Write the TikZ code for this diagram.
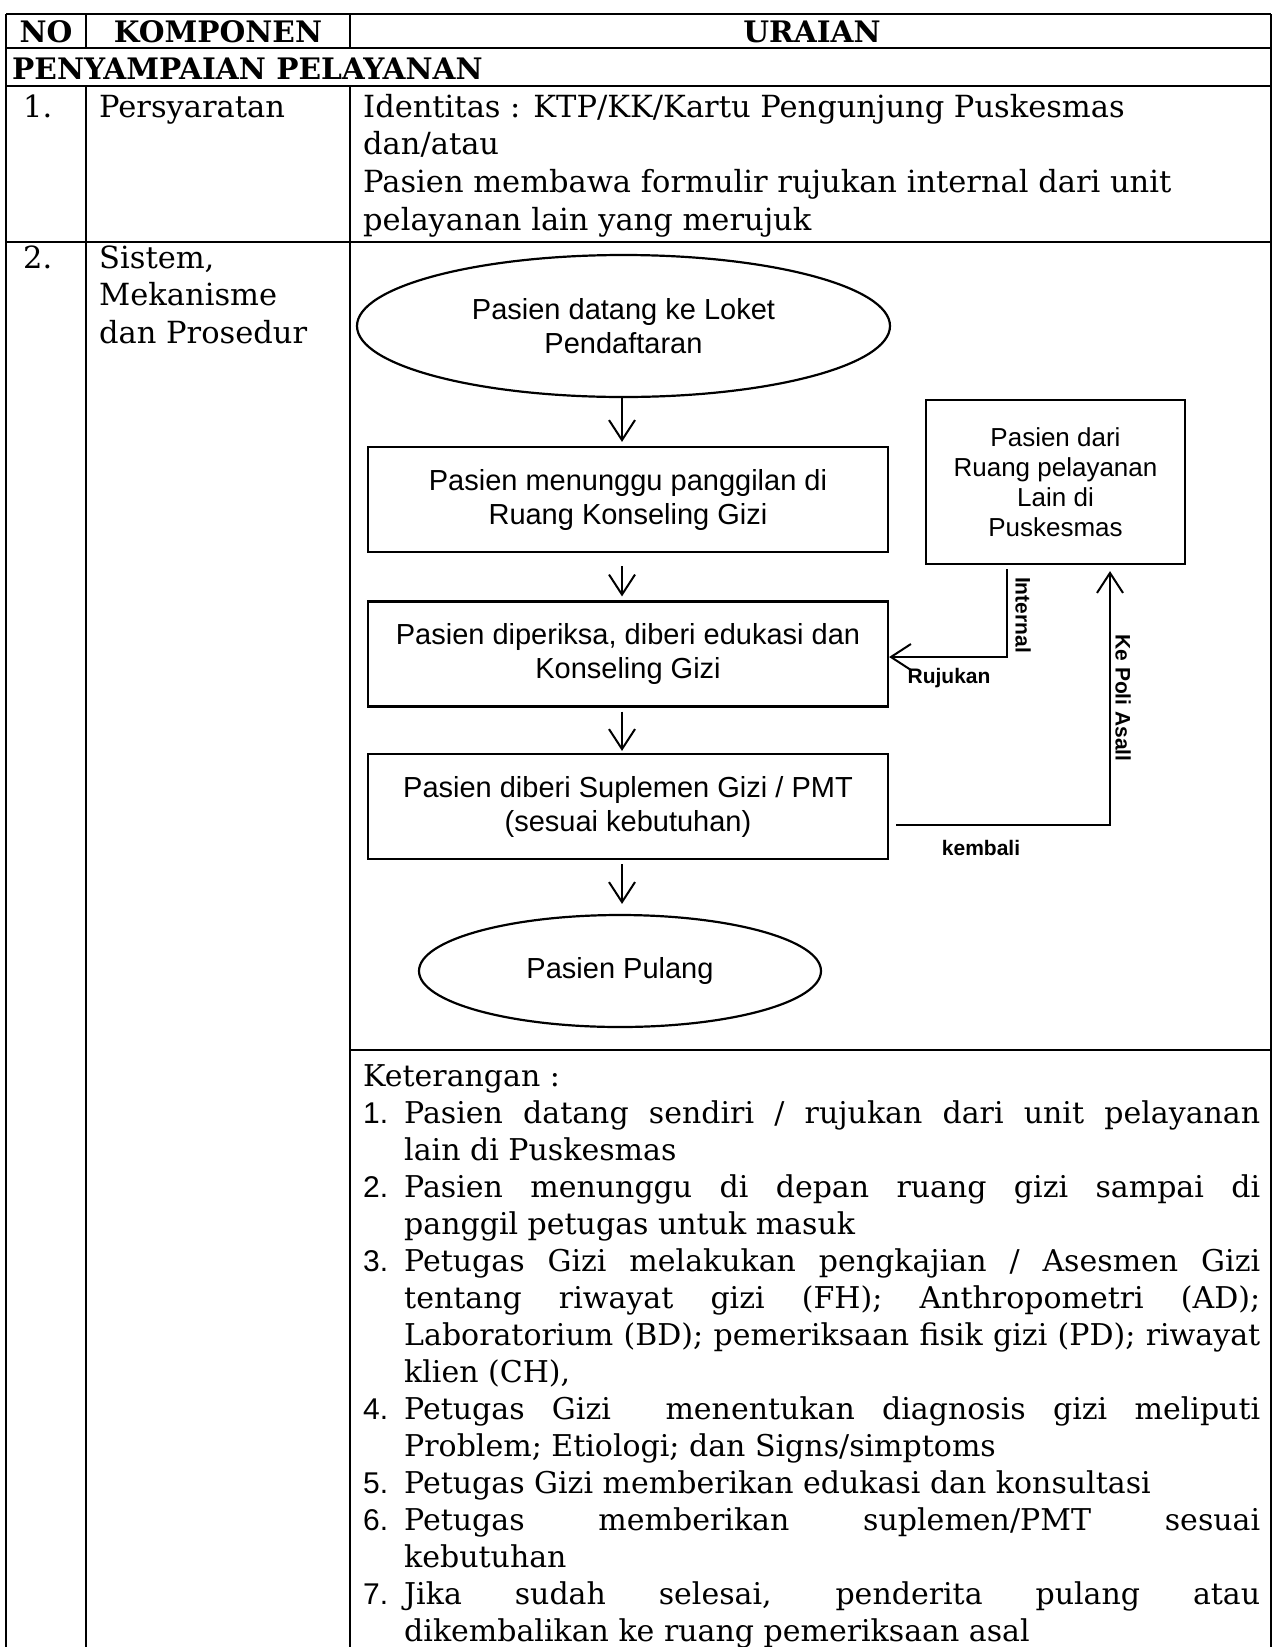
\documentclass[tikz,border=0pt]{standalone}
\usepackage{fontspec}
\setmainfont{DejaVu Serif}
\newfontfamily\flowfont{Liberation Sans}
\usetikzlibrary{arrows.meta,shapes.geometric}

% text styles
\newcommand\tabtext{\fontsize{30.5}{37.7}\selectfont}
\newcommand\kettext{\fontsize{30}{37}\selectfont}
\newcommand\headtext{\bfseries\fontsize{29.6}{37.7}\selectfont}
\newcommand\flowtext{\flowfont\fontsize{29}{34}\selectfont}
\newcommand\sidetext{\flowfont\fontsize{26}{30}\selectfont}
\newcommand\tagtext{\flowfont\bfseries\fontsize{21}{24}\selectfont}
% one line of the explanation list
\newcommand\ketnum[1]{\makebox[41pt][l]{\flowfont #1}}
\newcommand\ketgap{\hspace*{41pt}}
\newcommand\jline[1]{\makebox[856pt][s]{#1}}

\begin{document}
\begin{tikzpicture}[x=1pt,y=-1pt,
  grid/.style={line width=2.4pt},
  cell/.style={anchor=base west, inner sep=0pt, font=\tabtext},
  headcell/.style={anchor=base, inner sep=0pt, font=\headtext},
  flowbox/.style={draw, line width=2.2pt, minimum width=520pt, minimum height=105pt,
                  align=center, font=\flowtext, inner sep=0pt},
  flowoval/.style={draw, ellipse, line width=2.2pt, align=center, font=\flowtext, inner sep=0pt},
  sidebox/.style={draw, line width=2.2pt, minimum width=259pt, minimum height=164pt,
                  align=center, font=\sidetext, inner sep=0pt},
  arr/.style={line width=2pt, -{Straight Barb[length=20pt,width=26pt,line width=2pt]}},
  tag/.style={font=\tagtext, inner sep=0pt},
]
\useasboundingbox (0,0) rectangle (1276,1647);
\fill[white] (0,0) rectangle (1276,1647);

% table rules
\draw[grid] (6,14) -- (1271,14);
\draw[grid] (6,48) -- (1271,48);
\draw[grid] (6,86) -- (1271,86);
\draw[grid] (6,242) -- (1271,242);
\draw[grid] (350,1050) -- (1271,1050);
\draw[grid] (6,14) -- (6,1647);
\draw[grid] (86,14) -- (86,48);
\draw[grid] (86,86) -- (86,1647);
\draw[grid] (350,14) -- (350,48);
\draw[grid] (350,86) -- (350,1647);
\draw[grid] (1271,14) -- (1271,1647);

% header
\node[headcell] (hno) at (46,42) {NO};
\node[headcell] (hkomp) at (218,42) {KOMPONEN};
\node[headcell] (hur) at (812,42) {URAIAN};
\node[anchor=base west, inner sep=0pt, font=\headtext] (hsec) at (12,79) {PENYAMPAIAN PELAYANAN};

% row 1
\node[cell] (n1) at (23,117) {1.};
\node[cell] (k1) at (99,117) {Persyaratan};
\node[cell] (u1) at (363,117) {\parbox[t]{900pt}{Identitas : KTP/KK/Kartu Pengunjung Puskesmas\\
dan/atau\\
Pasien membawa formulir rujukan internal dari unit\\
pelayanan lain yang merujuk}};

% row 2
\node[cell] (n2) at (23,268) {2.};
\node[cell] (k2) at (99,268) {\parbox[t]{250pt}{Sistem,\\Mekanisme\\dan Prosedur}};

% flow chart
\node[flowoval, minimum width=533pt, minimum height=142pt] (e1) at (623.5,326) {Pasien datang ke Loket\\Pendaftaran};
\node[flowbox] (b2) at (628,499.5) {Pasien menunggu panggilan di\\Ruang Konseling Gizi};
\node[flowbox] (b3) at (628,654) {Pasien diperiksa, diberi edukasi dan\\Konseling Gizi};
\node[flowbox] (b4) at (628,806.5) {Pasien diberi Suplemen Gizi / PMT\\(sesuai kebutuhan)};
\node[flowoval, minimum width=402pt, minimum height=112pt] (e2) at (620,971) {Pasien Pulang};
\node[sidebox] (rb) at (1055.5,482) {Pasien dari\\Ruang pelayanan\\Lain di\\Puskesmas};

\coordinate (ax) at (622,0);
\draw[arr, shorten >=4pt] (e1.south -| ax) -- (b2.north -| ax);
\draw[arr, shorten <=13pt, shorten >=4pt] (b2.south -| ax) -- (b3.north -| ax);
\draw[arr, shorten <=4pt, shorten >=2pt] (b3.south -| ax) -- (b4.north -| ax);
\draw[arr, shorten <=4pt, shorten >=10pt] (b4.south -| ax) -- (e2.north -| ax);

\coordinate (ic) at (1007,657);
\draw[arr, shorten <=4pt] (rb.south -| ic) -- (ic) -- (ic -| b3.east);
\coordinate (kc) at (1110,825);
\draw[arr, shorten <=7pt, shorten >=6pt] (kc -| b4.east) -- (kc) -- (kc |- rb.south);

\node[tag, rotate=-90] (lint) at (1023,615) {Internal};
\node[tag] (lruj) at (949,678) {Rujukan};
\node[tag] (lkem) at (981,848) {kembali};
\node[tag, rotate=-90] (lpoli) at (1123,698) {Ke Poli Asall};

% explanation list
\node[cell, font=\kettext] (ket) at (363,1086) {\parbox[t]{900pt}{\baselineskip=37pt
Keterangan :\\
\ketnum{1.}\jline{Pasien datang sendiri / rujukan dari unit pelayanan}\\
\ketgap lain di Puskesmas\\
\ketnum{2.}\jline{Pasien menunggu di depan ruang gizi sampai di}\\
\ketgap panggil petugas untuk masuk\\
\ketnum{3.}\jline{Petugas Gizi melakukan pengkajian / Asesmen Gizi}\\
\ketgap\jline{tentang riwayat gizi (FH); Anthropometri (AD);}\\
\ketgap\jline{Laboratorium (BD); pemeriksaan fisik gizi (PD); riwayat}\\
\ketgap klien (CH),\\
\ketnum{4.}\jline{Petugas Gizi\ \ menentukan diagnosis gizi meliputi}\\
\ketgap Problem; Etiologi; dan Signs/simptoms\\
\ketnum{5.}Petugas Gizi memberikan edukasi dan konsultasi\\
\ketnum{6.}\jline{Petugas memberikan suplemen/PMT sesuai}\\
\ketgap kebutuhan\\
\ketnum{7.}\jline{Jika sudah selesai, penderita pulang atau}\\
\ketgap dikembalikan ke ruang pemeriksaan asal}};
\end{tikzpicture}
\end{document}
